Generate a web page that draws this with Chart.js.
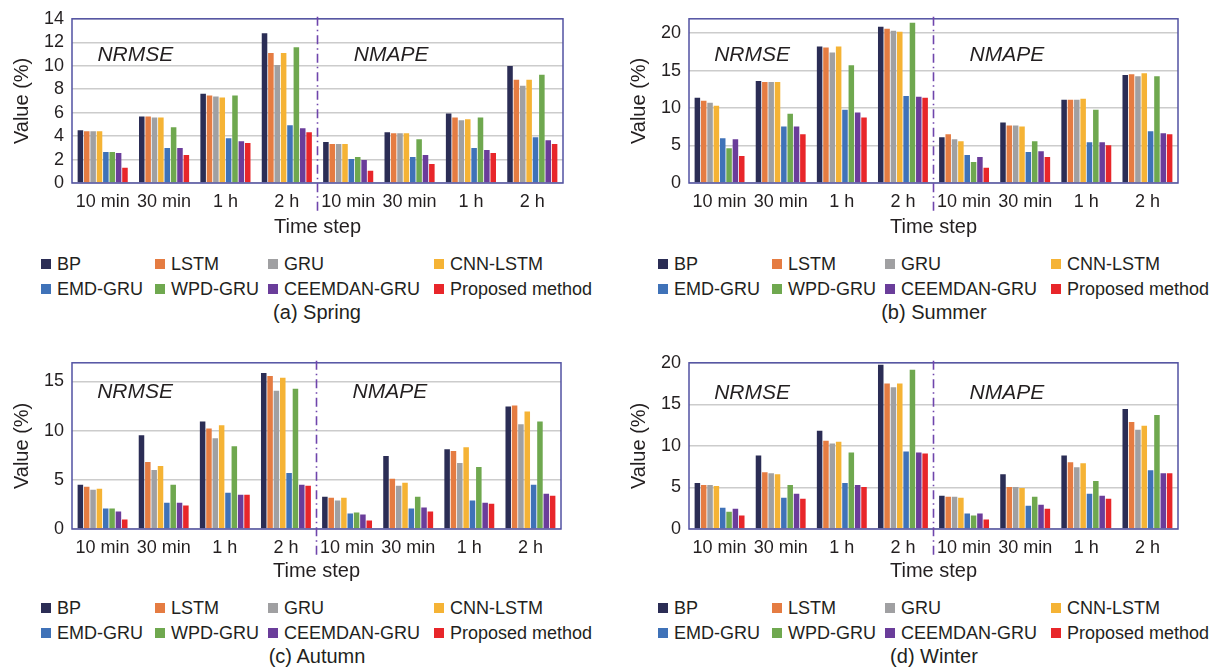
<!DOCTYPE html>
<html><head><meta charset="utf-8">
<script src="https://cdn.jsdelivr.net/npm/chart.js@4"></script>
<style>
body{margin:0;background:#fff;width:1219px;height:671px;position:relative;overflow:hidden;font-family:"Liberation Sans",Arial,sans-serif;color:#231f20}
canvas{position:absolute}
.lt{position:absolute;font-size:18px;line-height:20px;white-space:nowrap}
.sq{position:absolute;width:10px;height:10px}
.cap{position:absolute;font-size:20px;line-height:24px;white-space:nowrap;transform:translateX(-50%)}
</style></head><body>
<script>
// ---- data ----
const categories = ['10 min','30 min','1 h','2 h','10 min','30 min','1 h','2 h'];
const models = ['BP','LSTM','GRU','CNN-LSTM','EMD-GRU','WPD-GRU','CEEMDAN-GRU','Proposed method'];
const colors = ['#2b2d55','#e57c42','#a0a0a2','#f5b335','#3f72b8','#6fa84f','#6a3d9a','#e8262a'];
// each series: NRMSE (10 min,30 min,1 h,2 h) then NMAPE (10 min,30 min,1 h,2 h)
const springBP   = [4.50, 5.68, 7.62, 12.76, 3.49, 4.33, 5.93, 9.98];
const springLSTM = [4.41, 5.68, 7.45, 11.08, 3.32, 4.25, 5.59, 8.80];
const springGRU  = [4.41, 5.59, 7.37, 10.06, 3.32, 4.25, 5.34, 8.29];
const springCNN  = [4.41, 5.59, 7.28, 11.08, 3.32, 4.25, 5.43, 8.80];
const springEMD  = [2.64, 2.98, 3.82, 4.92, 2.05, 2.22, 2.98, 3.91];
const springWPD  = [2.64, 4.75, 7.45, 11.58, 2.22, 3.74, 5.59, 9.22];
const springCEEM = [2.56, 2.98, 3.57, 4.67, 1.97, 2.39, 2.81, 3.65];
const springProp = [1.29, 2.39, 3.40, 4.33, 1.04, 1.63, 2.56, 3.32];

const summerBP   = [11.36, 13.60, 18.20, 20.83, 6.10, 8.07, 11.10, 14.39];
const summerLSTM = [10.96, 13.46, 18.07, 20.57, 6.49, 7.68, 11.10, 14.52];
const summerGRU  = [10.70, 13.46, 17.41, 20.31, 5.83, 7.68, 11.10, 14.25];
const summerCNN  = [10.31, 13.46, 18.20, 20.18, 5.57, 7.54, 11.23, 14.65];
const summerEMD  = [5.96, 7.54, 9.78, 11.62, 3.73, 4.12, 5.44, 6.89];
const summerWPD  = [4.65, 9.25, 15.70, 21.36, 2.81, 5.57, 9.78, 14.25];
const summerCEEM = [5.83, 7.54, 9.39, 11.49, 3.46, 4.25, 5.44, 6.62];
const summerProp = [3.60, 6.49, 8.73, 11.36, 2.02, 3.46, 5.04, 6.49];

const autumnBP   = [4.50, 9.53, 10.94, 15.87, 3.29, 7.42, 8.12, 12.45];
const autumnLSTM = [4.30, 6.81, 10.23, 15.57, 3.19, 5.10, 7.92, 12.55];
const autumnGRU  = [3.99, 6.01, 9.23, 14.06, 2.89, 4.40, 6.71, 10.64];
const autumnCNN  = [4.09, 6.41, 10.54, 15.37, 3.19, 4.70, 8.32, 11.95];
const autumnEMD  = [2.08, 2.68, 3.69, 5.70, 1.58, 2.08, 2.89, 4.50];
const autumnWPD  = [2.08, 4.50, 8.42, 14.26, 1.68, 3.29, 6.31, 10.94];
const autumnCEEM = [1.78, 2.68, 3.49, 4.50, 1.48, 2.18, 2.68, 3.59];
const autumnProp = [0.97, 2.38, 3.49, 4.40, 0.87, 1.78, 2.58, 3.39];

const winterBP   = [5.53, 8.85, 11.82, 19.76, 3.99, 6.60, 8.85, 14.43];
const winterLSTM = [5.30, 6.84, 10.63, 17.51, 3.87, 5.06, 8.02, 12.89];
const winterGRU  = [5.30, 6.72, 10.28, 17.07, 3.87, 5.06, 7.43, 11.94];
const winterCNN  = [5.18, 6.60, 10.51, 17.51, 3.75, 4.94, 7.91, 12.41];
const winterEMD  = [2.57, 3.75, 5.53, 9.33, 1.86, 2.81, 4.23, 7.08];
const winterWPD  = [2.09, 5.30, 9.21, 19.17, 1.62, 3.87, 5.77, 13.72];
const winterCEEM = [2.45, 4.23, 5.30, 9.21, 1.86, 2.92, 3.99, 6.72];
const winterProp = [1.62, 3.64, 5.06, 9.09, 1.15, 2.45, 3.64, 6.72];

const metricLabels = ['NRMSE','NMAPE'];
const captions = ['(a) Spring','(b) Summer','(c) Autumn','(d) Winter'];

const seasons = [
  [springBP, springLSTM, springGRU, springCNN, springEMD, springWPD, springCEEM, springProp],
  [summerBP, summerLSTM, summerGRU, summerCNN, summerEMD, summerWPD, summerCEEM, summerProp],
  [autumnBP, autumnLSTM, autumnGRU, autumnCNN, autumnEMD, autumnWPD, autumnCEEM, autumnProp],
  [winterBP, winterLSTM, winterGRU, winterCNN, winterEMD, winterWPD, winterCEEM, winterProp]
];

// ---- layout ----
const panels = [
  {left:0,   top:0,   max:14,   step:2, padTop:17, padRight:37, xH:57, lblDy:36},
  {left:617, top:0,   max:21.9, step:5, padTop:17, padRight:39, xH:57, lblDy:36},
  {left:0,   top:344, max:16.9, step:5, padTop:17, padRight:39, xH:55, lblDy:29},
  {left:617, top:344, max:20,   step:5, padTop:16, padRight:39, xH:55, lblDy:30}
];
const TXT = '#231f20';
const FONT = '"Liberation Sans", Arial, sans-serif';

const decor = {
  id:'decor',
  afterDatasetsDraw(chart){
    const {ctx, chartArea:a} = chart;
    ctx.save();
    ctx.strokeStyle = '#5252a2';
    ctx.lineWidth = 1.5;
    ctx.strokeRect(a.left, a.top, a.right - a.left, a.bottom - a.top);
    ctx.restore();
  },
  afterDraw(chart){
    const {ctx, chartArea:a, scales:{x}} = chart;
    const o = chart.options.plugins.decor;
    ctx.save();
    const xm = (x.getPixelForValue(3) + x.getPixelForValue(4)) / 2;
    ctx.strokeStyle = '#6f45ac';
    ctx.lineWidth = 1.6;
    ctx.setLineDash([9,4,1.5,4]);
    ctx.beginPath();
    ctx.moveTo(xm, a.top - 2);
    ctx.lineTo(xm, a.bottom + 29);
    ctx.stroke();
    ctx.setLineDash([]);
    ctx.fillStyle = TXT;
    ctx.font = 'italic 21px ' + FONT;
    ctx.textAlign = 'center';
    ctx.textBaseline = 'middle';
    const w = a.right - a.left;
    ctx.fillText(metricLabels[0], a.left + 0.129 * w, a.top + o.lblDy);
    ctx.fillText(metricLabels[1], a.left + 0.650 * w, a.top + o.lblDy);
    ctx.restore();
  }
};

panels.forEach((p, i) => {
  const cv = document.createElement('canvas');
  cv.width = 600; cv.height = 240;
  cv.style.left = p.left + 'px'; cv.style.top = p.top + 'px';
  document.body.appendChild(cv);
  new Chart(cv, {
    type:'bar',
    data:{
      labels: categories,
      datasets: models.map((m, k) => ({
        label: m, data: seasons[i][k], backgroundColor: colors[k],
        borderWidth: 0, categoryPercentage: 0.83, barPercentage: 0.87
      }))
    },
    options:{
      responsive:false, animation:false, devicePixelRatio:1,
      layout:{padding:{left:0, right:p.padRight, top:p.padTop, bottom:0}},
      plugins:{legend:{display:false}, tooltip:{enabled:false}, decor:{lblDy:p.lblDy}},
      scales:{
        x:{
          grid:{display:false, drawTicks:false},
          border:{display:false},
          ticks:{color:TXT, font:{family:FONT, size:18}, padding:8, maxRotation:0, autoSkip:false},
          title:{display:true, text:'Time step', color:TXT, font:{family:FONT, size:20}, padding:{top:0,bottom:1}},
          afterFit(s){ s.height = p.xH; }
        },
        y:{
          min:0, max:p.max,
          grid:{color:'#cccccc', lineWidth:1.5, drawTicks:false},
          border:{display:false},
          ticks:{stepSize:p.step, color:TXT, font:{family:FONT, size:18}, padding:8, autoSkip:false},
          title:{display:true, text:'Value (%)', color:TXT, font:{family:FONT, size:20}, padding:{top:10,bottom:0}},
          afterBuildTicks(s){
            const t = [];
            for (let v = 0; v <= p.max + 1e-9; v += p.step) t.push({value: v});
            s.ticks = t;
          },
          afterFit(s){ s.width = 72; }
        }
      }
    },
    plugins:[decor]
  });

  // legend (HTML) built from models/colors
  const colX = [41, 155, 268, 434];
  const rowY = [264, 289];
  models.forEach((m, k) => {
    const cx = p.left + colX[k % 4];
    const cy = p.top + rowY[Math.floor(k / 4)];
    const sq = document.createElement('div');
    sq.className = 'sq';
    sq.style.left = cx + 'px'; sq.style.top = (cy - 5) + 'px';
    sq.style.background = colors[k];
    document.body.appendChild(sq);
    const t = document.createElement('div');
    t.className = 'lt';
    t.style.left = (cx + 16) + 'px'; t.style.top = (cy - 10) + 'px';
    t.textContent = m;
    document.body.appendChild(t);
  });
  const cap = document.createElement('div');
  cap.className = 'cap';
  cap.style.left = (p.left + 317) + 'px';
  cap.style.top = (p.top + 312 - 12) + 'px';
  cap.textContent = captions[i];
  document.body.appendChild(cap);
});
</script>
</body></html>
